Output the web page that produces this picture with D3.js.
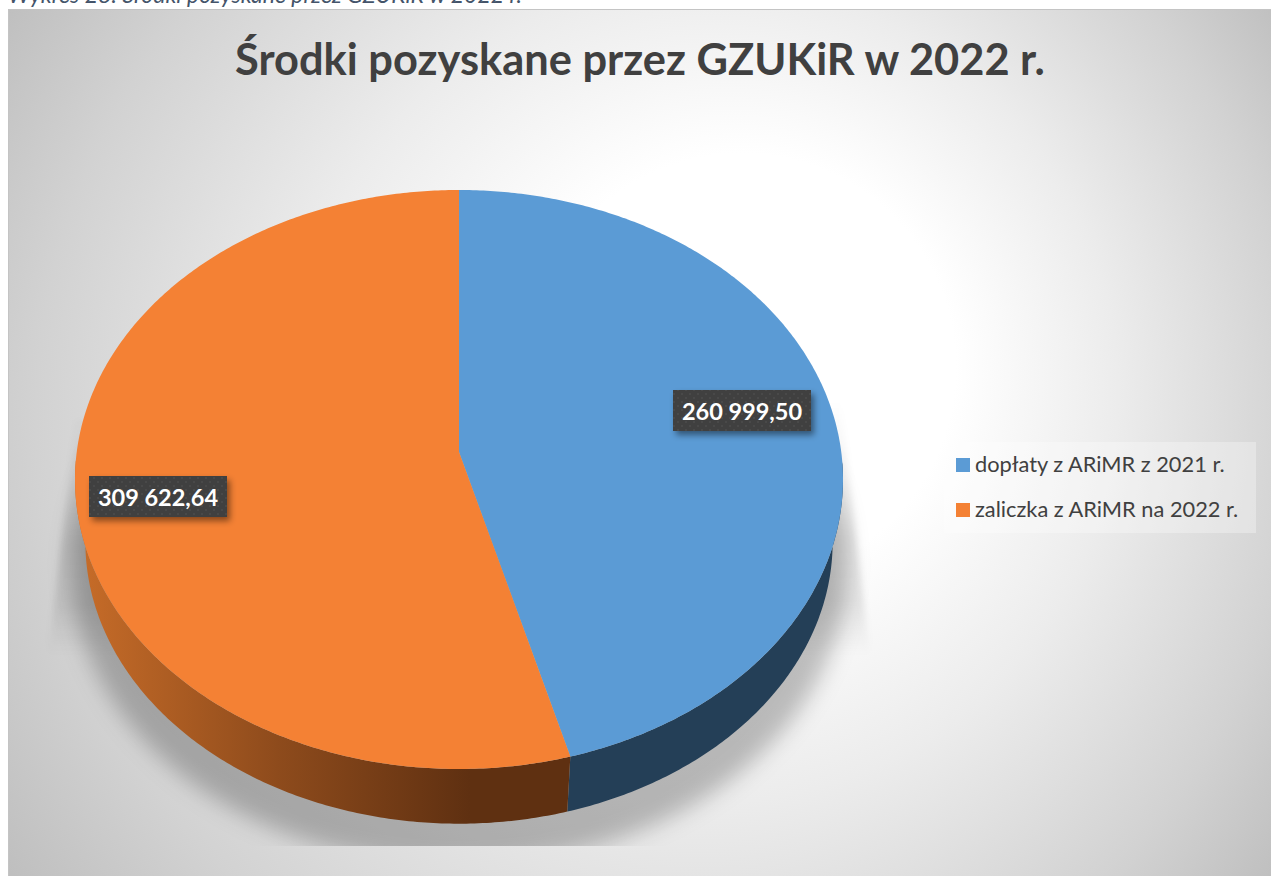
<!DOCTYPE html>
<html><head><meta charset="utf-8">
<script src="https://cdn.jsdelivr.net/npm/d3@7/dist/d3.min.js"></script>
<style>html,body{margin:0;padding:0;background:#fff;overflow:hidden}svg{display:block}text{font-family:Lato,"Open Sans",sans-serif}</style>
</head><body><svg id="c" width="1271" height="876"></svg>
<script>
const caption = "Wykres 28: Środki pozyskane przez GZUKiR w 2022 r.";
const chartTitle = "Środki pozyskane przez GZUKiR w 2022 r.";
const categories = ["dopłaty z ARiMR z 2021 r.", "zaliczka z ARiMR na 2022 r."];
const seriesValues = [260999.50, 309622.64];
const valueLabels = ["260 999,50", "309 622,64"];
const topColors = ["#5b9bd5", "#f48134"];

const W = 1271, H = 876;
const cx = 459, cy = 479.5, rx = 384, ry = 289.5, apexY = 452;
const lowK = 0.973, lowCy = 542;
const a = (apexY - cy) / ry;
const svg = d3.select("#c");
const defs = svg.append("defs");

function proj(theta) {
  const u = Math.sin(theta), v = -Math.cos(theta);
  const d = 1 + a * v;
  return [cx + rx * u * Math.sqrt(1 - a * a) / d, cy + ry * (v + a) / d];
}
const lower = p => [cx + (p[0] - cx) * lowK, lowCy + (p[1] - cy) * lowK];
const pie = d3.pie().sort(null).value(d => d);
const arcs = pie(seriesValues);
const line = d3.line();
function samples(a0, a1) {
  const n = Math.ceil(Math.abs(a1 - a0) / 0.01);
  return d3.range(n + 1).map(i => proj(a0 + (a1 - a0) * i / n));
}

// background
const bg = defs.append("radialGradient").attr("id", "bg").attr("gradientUnits", "userSpaceOnUse")
  .attr("cx", 640).attr("cy", 440).attr("r", 790).attr("fx", 780).attr("fy", 340);
[[0, "#ffffff"], [0.27, "#ffffff"], [0.52, "#ececec"], [0.8, "#d2d2d2"], [1, "#bcbcbc"]]
  .forEach(s => bg.append("stop").attr("offset", s[0]).attr("stop-color", s[1]));
svg.append("rect").attr("x", 8).attr("y", 9).attr("width", W - 8).attr("height", H - 9).attr("fill", "url(#bg)");
svg.append("path").attr("d", "M8.5 876V9.5H1271").attr("fill", "none").attr("stroke", "#c4c4c4");

// caption (cut by the top edge, as in the source)
svg.append("text").attr("x", 8).attr("y", 3).attr("font-size", 23).attr("font-style", "italic")
  .attr("fill", "#44546a").text(caption);

// shadow
const blur = (id, s) => defs.append("filter").attr("id", id).attr("x", "-20%").attr("y", "-20%").attr("width", "140%").attr("height", "140%")
  .append("feGaussianBlur").attr("stdDeviation", s);
blur("blurE", 11); blur("blurW", 3);
defs.append("clipPath").attr("id", "shClip").append("rect").attr("x", 0).attr("y", 300).attr("width", W).attr("height", 546);
const shGroup = svg.append("g").attr("clip-path", "url(#shClip)");
const wedge = defs.append("linearGradient").attr("id", "wedge").attr("gradientUnits", "userSpaceOnUse")
  .attr("x1", 0).attr("x2", 0).attr("y1", 400).attr("y2", 655);
[[0, 0], [0.55, 0.1], [0.8, 0.08], [1, 0]].forEach(s =>
  wedge.append("stop").attr("offset", s[0]).attr("stop-color", "#000").attr("stop-opacity", s[1]));
shGroup.append("path").attr("filter", "url(#blurW)").attr("fill", "url(#wedge)")
  .attr("d", `M76 420L48 655H870L840 400Z`);
shGroup.append("ellipse").attr("filter", "url(#blurE)").attr("fill", "#000").attr("fill-opacity", 0.24)
  .attr("cx", cx).attr("cy", 565).attr("rx", 388).attr("ry", 300);

// side walls
const sideG = defs.append("linearGradient").attr("id", "sideO").attr("gradientUnits", "userSpaceOnUse")
  .attr("x1", 85).attr("x2", 470).attr("y1", 0).attr("y2", 0);
[[0, "#c56b28"], [0.5, "#8e4b1c"], [1, "#5f3011"]]
  .forEach(s => sideG.append("stop").attr("offset", s[0]).attr("stop-color", s[1]));
const sideFill = ["#243f57", "url(#sideO)"];
arcs.forEach((d, i) => {
  const rim = samples(d.startAngle, d.endAngle).filter(p => p[1] >= cy - 20);
  svg.append("path").attr("d", line(rim.concat(rim.map(lower).reverse())) + "Z").attr("fill", sideFill[i]);
});

// top surface
arcs.forEach((d, i) => {
  svg.append("path").attr("d", line([[cx, apexY]].concat(samples(d.startAngle, d.endAngle))) + "Z")
    .attr("fill", topColors[i]);
});

// data labels
const pat = defs.append("pattern").attr("id", "dots").attr("patternUnits", "userSpaceOnUse").attr("width", 8).attr("height", 8);
pat.append("rect").attr("width", 8).attr("height", 8).attr("fill", "#404040");
pat.append("circle").attr("cx", 2).attr("cy", 2).attr("r", 0.8).attr("fill", "#565656");
pat.append("circle").attr("cx", 6).attr("cy", 6).attr("r", 0.8).attr("fill", "#565656");
const ds = defs.append("filter").attr("id", "lblShadow").attr("x", "-20%").attr("y", "-30%").attr("width", "140%").attr("height", "170%");
ds.append("feDropShadow").attr("dx", 3).attr("dy", 4).attr("stdDeviation", 3).attr("flood-color", "#000").attr("flood-opacity", 0.45);
const lblBoxes = [[673, 390], [89, 476]];
const lblW = 138, lblH = 41;
valueLabels.forEach((t, i) => {
  svg.append("rect").attr("x", lblBoxes[i][0]).attr("y", lblBoxes[i][1]).attr("width", lblW).attr("height", lblH)
    .attr("fill", "url(#dots)").attr("filter", "url(#lblShadow)");
  svg.append("text").attr("x", lblBoxes[i][0] + lblW / 2).attr("y", lblBoxes[i][1] + 30)
    .attr("text-anchor", "middle").attr("font-size", 23.5).attr("font-weight", 700).attr("fill", "#fff").text(t);
});

// title
svg.append("text").attr("x", 640).attr("y", 75).attr("text-anchor", "middle").attr("font-size", 43.4)
  .attr("font-weight", 700).attr("fill", "#404040").text(chartTitle);

// legend
svg.append("rect").attr("x", 944).attr("y", 442).attr("width", 312).attr("height", 91).attr("fill", "#fff").attr("fill-opacity", 0.3);
const legendY = [465, 510];
categories.forEach((t, i) => {
  svg.append("rect").attr("x", 956).attr("y", legendY[i] - 7).attr("width", 14).attr("height", 14).attr("fill", topColors[i]);
  svg.append("text").attr("x", 975).attr("y", legendY[i] + 7).attr("font-size", 21.8).attr("fill", "#404040").text(t);
});
</script></body></html>
